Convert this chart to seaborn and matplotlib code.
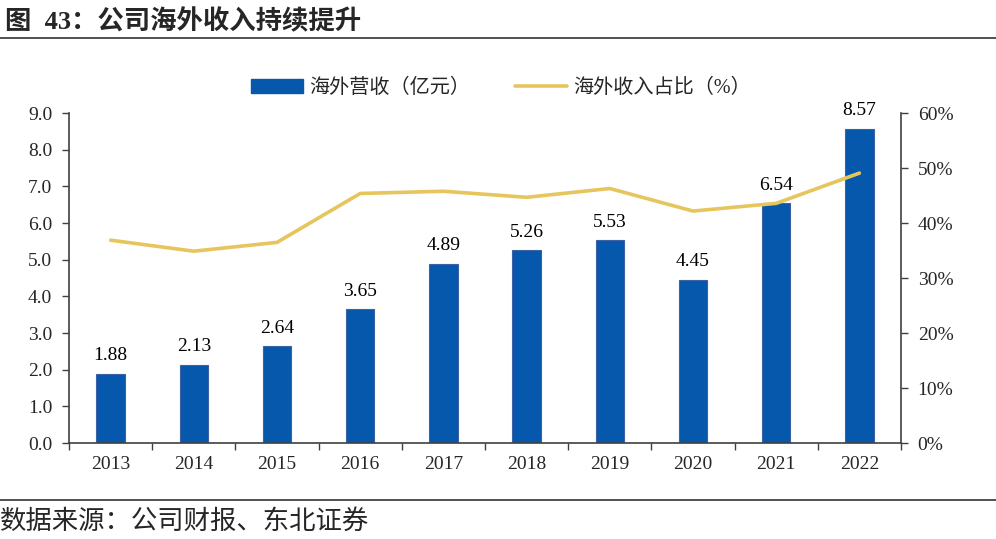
import numpy as np
import pandas as pd
import matplotlib
matplotlib.use('Agg')
import matplotlib.pyplot as plt
from matplotlib.patches import Patch
from matplotlib.lines import Line2D
import seaborn as sns

# data
years = ['2013', '2014', '2015', '2016', '2017', '2018', '2019', '2020', '2021', '2022']
revenue = [1.88, 2.13, 2.64, 3.65, 4.89, 5.26, 5.53, 4.45, 6.54, 8.57]   # 亿元
share = [36.9, 34.9, 36.5, 45.4, 45.8, 44.7, 46.3, 42.2, 43.6, 49.1]    # %
left_ticks = [0.0, 1.0, 2.0, 3.0, 4.0, 5.0, 6.0, 7.0, 8.0, 9.0]
right_ticks = [0, 10, 20, 30, 40, 50, 60]

bar_color = '#0558AB'
line_color = '#E6C65C'
spine_color = '#404040'
fs = 14

sns.set_style('ticks')
plt.rcParams['font.family'] = ['Liberation Serif', 'Noto Sans CJK SC', 'DejaVu Sans']
plt.rcParams['axes.unicode_minus'] = False

df = pd.DataFrame({'year': years, 'revenue': revenue, 'share': share})

fig = plt.figure(figsize=(9.96, 5.39), dpi=100)
ax = fig.add_axes([0.0693, 0.178, 0.8353, 0.612])

sns.barplot(data=df, x='year', y='revenue', color=bar_color, width=0.34,
            edgecolor='#3D62A6', linewidth=0.8, saturation=1, ax=ax)
for c in ax.containers:
    ax.bar_label(c, labels=[f'{v:.2f}' for v in revenue], padding=7,
                 fontsize=fs, color='black')

ax.set_ylim(0, 9)
ax.set_xlim(-0.5, len(years) - 0.5)
ax.set_yticks(left_ticks)
ax.set_yticklabels([f'{v:.1f}' for v in left_ticks], fontsize=fs)
ax.set_xlabel('')
ax.set_ylabel('')
ax.tick_params(axis='x', which='major', length=0, pad=9, labelsize=fs)
ax.set_xticks(np.arange(-0.5, len(years), 1.0), minor=True)
ax.tick_params(axis='x', which='minor', length=5, width=1, color=spine_color)
ax.tick_params(axis='y', length=5, width=1, color=spine_color, pad=7)

ax2 = ax.twinx()
sns.lineplot(x=np.arange(len(years)), y=share, color=line_color, linewidth=2.6,
             ax=ax2, solid_capstyle='round', solid_joinstyle='round')
ax2.set_ylim(0, 60)
ax2.set_yticks(right_ticks)
ax2.set_yticklabels([f'{v}%' for v in right_ticks], fontsize=fs)
ax2.tick_params(axis='y', length=5, width=1, color=spine_color, pad=7)
ax2.set_xlim(-0.5, len(years) - 0.5)

for a in (ax, ax2):
    a.spines['top'].set_visible(False)
    for s in ('left', 'right', 'bottom'):
        a.spines[s].set_color(spine_color)
        a.spines[s].set_linewidth(1.2)
ax.spines['right'].set_visible(False)
ax2.spines['left'].set_visible(False)
ax2.spines['bottom'].set_visible(False)

handles = [Patch(facecolor=bar_color, edgecolor=bar_color),
           Line2D([0], [0], color=line_color, linewidth=2.6)]
fig.legend(handles, ['海外营收（亿元）', '海外收入占比（%）'], loc='center',
           bbox_to_anchor=(0.503, 0.836), ncol=2, frameon=False, fontsize=14.5,
           handlelength=2.6, handleheight=0.7, columnspacing=2.2, handletextpad=0.3)

# title and source with separator lines
fig.text(0.005, 0.960, '图  43：公司海外收入持续提升', fontsize=19, fontweight='bold',
         ha='left', va='center')
fig.add_artist(Line2D([0, 1], [0.930, 0.930], color='#333333', linewidth=1.2))
fig.add_artist(Line2D([0, 1], [0.073, 0.073], color='#333333', linewidth=1.2))
fig.text(0.0, 0.033, '数据来源：公司财报、东北证券', fontsize=19, ha='left', va='center')

fig.savefig('out.png', dpi=100)
